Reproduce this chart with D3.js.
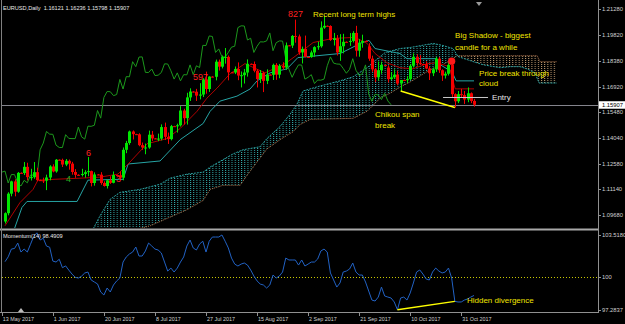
<!DOCTYPE html>
<html lang="en">
<head>
<meta charset="UTF-8">
<title>EURUSD Daily - Ichimoku</title>
<script src="https://d3js.org/d3.v7.min.js"></script>
<style>
  body { margin: 0; background: #000; }
  svg { display: block; font-family: "Liberation Sans", Arial, sans-serif; }
</style>
</head>
<body>
<div id="chart"></div>
<script>
// EURUSD daily, 15 May - 6 Nov 2017 (the broker also prints short Saturday bars)
const open = [
  1.0933,1.0980,1.1090,1.1159,1.1101,1.1207,1.1206,1.1241,1.1183,1.1183,
  1.1211,1.1166,1.1165,1.1163,1.1181,1.1243,1.1215,1.1281,1.1280,1.1254,
  1.1275,1.1259,1.1212,1.1196,1.1195,1.1201,1.1211,1.1217,1.1150,1.1198,
  1.1197,1.1150,1.1133,1.1165,1.1151,1.1195,1.1194,1.1180,1.1337,1.1375,
  1.1440,1.1425,1.1424,1.1363,1.1350,1.1350,1.1422,1.1401,1.1400,1.1400,
  1.1465,1.1410,1.1397,1.1470,1.1469,1.1475,1.1558,1.1515,1.1632,1.1665,
  1.1664,1.1642,1.1648,1.1733,1.1679,1.1749,1.1748,1.1833,1.1805,1.1859,
  1.1860,1.1773,1.1772,1.1792,1.1755,1.1757,1.1772,1.1821,1.1820,1.1782,
  1.1735,1.1770,1.1725,1.1760,1.1759,1.1815,1.1760,1.1810,1.1800,1.1925,
  1.1924,1.1978,1.1975,1.1885,1.1905,1.1860,1.1859,1.1885,1.1915,1.1920,
  1.2025,1.2035,1.2034,1.1955,1.1965,1.1885,1.1920,1.1945,1.1944,1.1950,
  1.1995,1.1895,1.1940,1.1950,1.1920,1.1850,1.1790,1.1745,1.1785,1.1815,
  1.1800,1.1735,1.1745,1.1760,1.1710,1.1730,1.1729,1.1735,1.1810,1.1860,
  1.1825,1.1820,1.1819,1.1795,1.1768,1.1790,1.1850,1.1785,1.1755,1.1765,
  1.1815,1.1650,1.1610,1.1650,1.1645,1.1620,1.1655,1.16121];
const high = [
  1.0985,1.1098,1.1163,1.1171,1.1212,1.1210,1.1268,1.1264,1.1230,1.1268,
  1.1236,1.1169,1.1180,1.1197,1.1250,1.1255,1.1285,1.1283,1.1287,1.1285,
  1.1282,1.1269,1.1228,1.1199,1.1230,1.1222,1.1296,1.1220,1.1210,1.1200,
  1.1211,1.1160,1.1170,1.1188,1.1215,1.1197,1.1215,1.1350,1.1387,1.1445,
  1.1446,1.1427,1.1430,1.1378,1.1372,1.1445,1.1443,1.1403,1.1428,1.1480,
  1.1490,1.1434,1.1477,1.1472,1.1484,1.1583,1.1568,1.1658,1.1683,1.1667,
  1.1680,1.1712,1.1740,1.1777,1.1751,1.1751,1.1845,1.1845,1.1868,1.1910,
  1.1868,1.1775,1.1806,1.1829,1.1778,1.1792,1.1846,1.1823,1.1834,1.1791,
  1.1786,1.1777,1.1790,1.1762,1.1822,1.1825,1.1820,1.1830,1.1941,1.1927,
  1.1983,1.2070,1.1986,1.1918,1.1980,1.1862,1.1896,1.1920,1.1946,1.2060,
  1.2092,1.2037,1.2038,1.1995,1.1983,1.1988,1.1990,1.1947,1.1994,1.2005,
  1.2035,1.1961,1.1985,1.1952,1.1937,1.1867,1.1797,1.1834,1.1833,1.1817,
  1.1813,1.1775,1.1790,1.1782,1.1730,1.1732,1.1752,1.1820,1.1880,1.1875,
  1.1870,1.1822,1.1835,1.1808,1.1800,1.1860,1.1860,1.1790,1.1777,1.1830,
  1.1836,1.1655,1.1668,1.1680,1.1668,1.1688,1.1660,1.16236];
const low = [
  1.0922,1.0968,1.1075,1.1075,1.1095,1.1203,1.1195,1.1165,1.1164,1.1174,
  1.1160,1.1162,1.1150,1.1110,1.1165,1.1210,1.1208,1.1277,1.1240,1.1245,
  1.1225,1.1197,1.1179,1.1192,1.1187,1.1180,1.1188,1.1131,1.1135,1.1194,
  1.1140,1.1130,1.1119,1.1145,1.1148,1.1191,1.1169,1.1165,1.1318,1.1365,
  1.1395,1.1420,1.1357,1.1337,1.1312,1.1343,1.1387,1.1397,1.1386,1.1390,
  1.1392,1.1370,1.1390,1.1466,1.1434,1.1468,1.1479,1.1479,1.1612,1.1660,
  1.1612,1.1621,1.1634,1.1653,1.1663,1.1745,1.1728,1.1783,1.1795,1.1822,
  1.1728,1.1769,1.1763,1.1729,1.1688,1.1710,1.1749,1.1817,1.1773,1.1688,
  1.1713,1.1662,1.1707,1.1756,1.1730,1.1731,1.1740,1.1787,1.1787,1.1921,
  1.1910,1.1940,1.1872,1.1823,1.1858,1.1856,1.1855,1.1860,1.1900,1.1912,
  1.2018,1.2031,1.1950,1.1924,1.1868,1.1838,1.1880,1.1941,1.1922,1.1941,
  1.1862,1.1861,1.1912,1.1946,1.1838,1.1776,1.1718,1.1726,1.1765,1.1811,
  1.1716,1.1729,1.1737,1.1700,1.1668,1.1726,1.1712,1.1730,1.1800,1.1810,
  1.1815,1.1816,1.1790,1.1730,1.1752,1.1775,1.1770,1.1725,1.1738,1.1755,
  1.1630,1.1575,1.1600,1.1630,1.1595,1.1605,1.1600,1.15798];
const close = [
  1.0980,1.1090,1.1159,1.1101,1.1207,1.1206,1.1241,1.1183,1.1183,1.1211,
  1.1166,1.1165,1.1163,1.1181,1.1243,1.1215,1.1281,1.1280,1.1254,1.1275,
  1.1259,1.1212,1.1196,1.1195,1.1201,1.1211,1.1217,1.1150,1.1198,1.1197,
  1.1150,1.1133,1.1165,1.1151,1.1195,1.1194,1.1180,1.1337,1.1375,1.1440,
  1.1425,1.1424,1.1363,1.1350,1.1350,1.1422,1.1401,1.1400,1.1400,1.1465,
  1.1410,1.1397,1.1470,1.1469,1.1475,1.1558,1.1515,1.1632,1.1665,1.1664,
  1.1642,1.1648,1.1733,1.1679,1.1749,1.1748,1.1833,1.1805,1.1859,1.1860,
  1.1773,1.1772,1.1792,1.1755,1.1757,1.1772,1.1821,1.1820,1.1782,1.1735,
  1.1770,1.1725,1.1760,1.1759,1.1815,1.1760,1.1810,1.1800,1.1925,1.1924,
  1.1978,1.1975,1.1885,1.1905,1.1860,1.1859,1.1885,1.1915,1.1920,1.2025,
  1.2035,1.2034,1.1955,1.1965,1.1885,1.1920,1.1945,1.1944,1.1950,1.1995,
  1.1895,1.1940,1.1950,1.1949,1.1850,1.1790,1.1745,1.1785,1.1815,1.1814,
  1.1735,1.1745,1.1760,1.1710,1.1730,1.1729,1.1735,1.1810,1.1860,1.1825,
  1.1820,1.1819,1.1795,1.1768,1.1790,1.1850,1.1785,1.1755,1.1765,1.1815,
  1.1650,1.1610,1.1650,1.1645,1.1620,1.1655,1.1612,1.15907];

// Momentum(14), one value per bar
const momentum = [
  101.3,101.7,102.35,102.4,102.85,102.1,102.35,102.1,102.75,103.4,
  103.7,103.1,103.25,102.6,102.5,101.35,101.27,101.5,100.8,100.95,
  100.6,100.27,100.0,99.94,100.1,100.36,100.44,99.78,99.61,99.45,
  98.78,98.53,99.11,98.78,99.36,99.7,99.94,101.27,101.69,101.94,
  102.1,102.52,101.77,101.77,102.19,102.85,102.6,102.35,102.27,102.02,
  101.27,100.52,100.77,100.44,100.77,101.27,101.69,102.6,103.1,102.44,
  102.27,102.77,103.0,102.1,103.0,103.35,103.35,103.35,103.52,103.0,
  102.44,101.6,101.1,100.94,101.1,101.19,101.02,100.61,100.11,99.7,
  99.44,99.36,99.11,99.36,100.19,99.94,100.11,100.44,101.6,101.44,
  101.44,101.44,101.02,101.44,100.94,101.1,101.27,101.27,101.52,102.19,
  102.35,102.1,100.36,99.78,99.19,99.53,100.44,100.52,100.69,101.19,
  100.44,100.19,100.19,99.61,98.86,98.11,98.03,98.36,99.19,98.45,
  98.36,98.28,97.95,97.30,98.28,98.36,98.11,98.7,99.53,100.44,
  100.61,100.27,99.86,99.78,100.44,100.77,100.52,100.36,100.44,100.77,
  99.94,98.0,97.95,97.95,98.11,98.2,98.36,98.4909];

// ichimoku lines, [bar, price]
const tenkan = [[0,1.0909],[4.7,1.1040],[8.8,1.1114],[10.3,1.1166],[15.7,1.1171],[23.5,1.1177],
  [29.8,1.1183],[35.4,1.1200],[38.6,1.1257],[44.5,1.1371],[50.8,1.1400],[54.9,1.1457],[60.2,1.1554],
  [63.3,1.1628],[66.5,1.1685],[70.5,1.1765],[75.2,1.1822],[81.5,1.1770],[87.8,1.1822],[91.2,1.1867],
  [96.6,1.1941],[102.8,1.1964],[109.7,1.1970],[113.5,1.1936],[116,1.1879],[119.7,1.1827],[123.8,1.1799],
  [127.9,1.1793],[132.3,1.1822],[135.4,1.1827],[139.2,1.1805],[141.1,1.1680],[147,1.1680]];
const kijun = [[0,1.0830],[2.5,1.0869],[5.3,1.1012],[6.9,1.1046],[22.6,1.1046],[26,1.1166],[37,1.1171],
  [38.6,1.1257],[48.6,1.1274],[54.9,1.1394],[62.1,1.1485],[64.3,1.1554],[67.4,1.1611],[72.7,1.1639],
  [76.8,1.1679],[79,1.1725],[83.1,1.1770],[88.4,1.1793],[91.8,1.1856],[105,1.1879],[108.2,1.1907],
  [111.3,1.1936],[114.1,1.1953],[116,1.1907],[123.8,1.1879],[126,1.1850],[135.1,1.1850],[136.4,1.1816],
  [140.1,1.1776],[141.4,1.1725],[147,1.1725]];
const spanA = [[25.1,1.0783],[27.3,1.0880],[29.8,1.0966],[32.9,1.1057],[36,1.1097],[42.3,1.1114],
  [48.6,1.1143],[51.7,1.1177],[57.1,1.1200],[62.1,1.1211],[64.3,1.1240],[71.5,1.1314],[74.6,1.1337],
  [79.9,1.1354],[82.1,1.1400],[86.2,1.1468],[89.3,1.1536],[91.5,1.1593],[93.4,1.1668],[98.7,1.1696],
  [105,1.1725],[109.1,1.1748],[113.5,1.1799],[116,1.1839],[119.1,1.1884],[123.8,1.1907],[127,1.1913],
  [134.2,1.1936],[137.3,1.1924],[140.4,1.1907],[142,1.1862],[145.8,1.1839],[149.8,1.1816],[155.2,1.1799],
  [158.3,1.1805],[161.4,1.1805],[163.6,1.1793],[166.1,1.1770],[167.4,1.1713],[173,1.1713]];
const spanB = [[32.9,1.0812],[39.2,1.0880],[45.5,1.0909],[57.1,1.1000],[62.1,1.1052],[64.3,1.1114],
  [68.3,1.1137],[73.7,1.1137],[75.9,1.1194],[82.1,1.1342],[86.2,1.1394],[90.3,1.1439],[92.5,1.1479],
  [95.6,1.1508],[109.1,1.1514],[113.5,1.1554],[115.4,1.1588],[117.6,1.1628],[120.7,1.1656],[123.8,1.1690],
  [127,1.1719],[130.1,1.1753],[133.2,1.1787],[136.4,1.1810],[139.5,1.1839],[141.7,1.1867],[166.8,1.1867],
  [167.7,1.1833],[173,1.1833]];

const priceTicks = [1.21280, 1.19820, 1.18380, 1.16920, 1.15480, 1.14040, 1.12580, 1.11140, 1.09680];
const momTicks = [103.5180, 100, 97.2837];
const dateTicks = [[-1, "13 May 2017"], [15, "1 Jun 2017"], [31, "20 Jun 2017"], [47, "8 Jul 2017"],
  [63, "27 Jul 2017"], [79, "15 Aug 2017"], [95, "2 Sep 2017"], [111, "21 Sep 2017"],
  [127, "10 Oct 2017"], [143, "31 Oct 2017"]];

// text objects on the chart, [bar, price]
const notes = [
  {i: 88.7, v: 1.20847, t: "827", kind: "count"},
  {i: 96.55, v: 1.20847, t: "Recent long term highs", kind: "comment"},
  {i: 58.9, v: 1.17299, t: "597", kind: "count"},
  {i: 25.4, v: 1.13048, t: "6", kind: "count"},
  {i: 19.1, v: 1.11528, t: "4", kind: "countUp"},
  {i: 34.8, v: 1.11584, t: "3", kind: "count"},
  {i: 141.07, v: 1.19664, t: "Big Shadow - biggest", kind: "comment"},
  {i: 141.07, v: 1.18988, t: "candle for a while", kind: "comment"},
  {i: 148.6, v: 1.17524, t: "Price break through", kind: "comment"},
  {i: 148.6, v: 1.16961, t: "cloud", kind: "comment"},
  {i: 152.66, v: 1.16145, t: "Entry", kind: "entry"},
  {i: 116, v: 1.15216, t: "Chikou span", kind: "comment"},
  {i: 116, v: 1.14596, t: "break", kind: "comment"}
];
const momNotes = [{i: 144.8, v: 97.86, t: "Hidden divergence", kind: "comment"}];
const entryLine = {from: 137.3, to: 151.4, v: 1.16314};

const W = 625, H = 324;
const noteStyle = {
  count:   {fill: "#ff2020", size: 9},
  countUp: {fill: "#22b022", size: 9},
  comment: {fill: "#f0e400", size: 8},
  entry:   {fill: "#e6e6e6", size: 8}
};

const svg = d3.select("#chart").append("svg").attr("width", W).attr("height", H);
svg.append("rect").attr("width", W).attr("height", H).attr("fill", "#000");

const x = d3.scaleLinear().domain([0, 147]).range([5, 474]);
const y = d3.scaleLinear().domain([1.08966, 1.21691]).range([228, 2]);
const ym = d3.scaleLinear().domain([97.2837, 103.518]).range([310, 235]);
const step = x(1) - x(0);
const last = close.length - 1;

const defs = svg.append("defs");
defs.append("clipPath").attr("id", "mainClip")
  .append("rect").attr("x", 2).attr("y", 2).attr("width", 596).attr("height", 226);
defs.append("clipPath").attr("id", "momClip")
  .append("rect").attr("x", 2).attr("y", 231).attr("width", 596).attr("height", 81);

function hatch(id, color) {
  const p = defs.append("pattern").attr("id", id)
    .attr("patternUnits", "userSpaceOnUse")
    .attr("x", x(0)).attr("y", 0)
    .attr("width", step).attr("height", 2);
  p.append("rect").attr("width", 1).attr("height", 1).attr("fill", color);
}
hatch("kumoUp", "#34abab");
hatch("kumoDown", "#c49f72");

const line = d3.line().x(d => x(d[0])).y(d => y(d[1]));
const below = d3.area().x(d => x(d[0])).y0(H + 40).y1(d => y(d[1]));
defs.append("clipPath").attr("id", "belowA").append("path").attr("d", below(spanA));
defs.append("clipPath").attr("id", "belowB").append("path").attr("d", below(spanB));

const main = svg.append("g").attr("clip-path", "url(#mainClip)");

// cloud
const between = line(spanA.concat(spanB.slice().reverse())) + "Z";
main.append("g").attr("clip-path", "url(#belowA)")
  .append("path").attr("d", between).attr("fill", "url(#kumoUp)");
main.append("g").attr("clip-path", "url(#belowB)")
  .append("path").attr("d", between).attr("fill", "url(#kumoDown)");
main.append("path").attr("d", line(spanB)).attr("fill", "none")
  .attr("stroke", "#b07650").attr("stroke-dasharray", "1,1");
main.append("path").attr("d", line(spanA)).attr("fill", "none")
  .attr("stroke", "#2aa0a0").attr("stroke-dasharray", "2,1");

// current price line
main.append("line").attr("x1", 2).attr("x2", 598)
  .attr("y1", Math.round(y(close[last])) + 0.5).attr("y2", Math.round(y(close[last])) + 0.5)
  .attr("stroke", "#84848c");

// kijun, tenkan, chikou
main.append("path").attr("d", line(kijun)).attr("fill", "none").attr("stroke", "#26a4a4");
main.append("path").attr("d", line(tenkan)).attr("fill", "none").attr("stroke", "#b00000");
const chikou = close.map((c, i) => [i - 26, c]);
main.append("path").attr("d", line(chikou)).attr("fill", "none").attr("stroke", "#1c981c");

// candles
const bars = d3.range(close.length);
const up = i => close[i] >= open[i];
const bull = "#00e600", bear = "#f40000";
main.selectAll(".wick").data(bars).join("rect").attr("class", "wick")
  .attr("x", i => Math.round(x(i)))
  .attr("y", i => y(high[i]))
  .attr("width", 1)
  .attr("height", i => Math.max(1, y(low[i]) - y(high[i])))
  .attr("fill", i => up(i) ? bull : bear);
main.selectAll(".body").data(bars).join("rect").attr("class", "body")
  .attr("x", i => Math.round(x(i)) - 1)
  .attr("y", i => y(Math.max(open[i], close[i])))
  .attr("width", 3)
  .attr("height", i => Math.max(1, Math.abs(y(open[i]) - y(close[i]))))
  .attr("fill", i => up(i) ? bull : bear);

// trend line under the lows, entry line, big shadow dot
main.append("line")
  .attr("x1", x(124)).attr("y1", y(low[124]))
  .attr("x2", x(141)).attr("y2", y(low[141]))
  .attr("stroke", "#ffff00").attr("stroke-width", 1.4);
main.append("line")
  .attr("x1", x(entryLine.from)).attr("x2", x(entryLine.to))
  .attr("y1", y(entryLine.v)).attr("y2", y(entryLine.v))
  .attr("stroke", "#c8c8c8");
main.append("circle").attr("cx", x(140)).attr("cy", y(high[140])).attr("r", 3.6).attr("fill", "#ff1a1a");

main.selectAll(".note").data(notes).join("text").attr("class", "note")
  .attr("x", d => x(d.i)).attr("y", d => y(d.v))
  .attr("fill", d => noteStyle[d.kind].fill)
  .attr("font-size", d => noteStyle[d.kind].size)
  .text(d => d.t);

svg.append("text").attr("x", 3).attr("y", 10).attr("fill", "#e8e8e8").attr("font-size", 5.6)
  .attr("xml:space", "preserve")
  .text("EURUSD,Daily  1.16121 1.16236 1.15798 1.15907");

// momentum window
const mom = svg.append("g").attr("clip-path", "url(#momClip)");
mom.append("line").attr("x1", 2).attr("x2", 598)
  .attr("y1", Math.round(ym(100)) + 0.5).attr("y2", Math.round(ym(100)) + 0.5)
  .attr("stroke", "#c8c800").attr("stroke-dasharray", "1,2");
mom.append("path")
  .attr("d", d3.line().x((d, i) => x(i)).y(d => ym(d))(momentum))
  .attr("fill", "none").attr("stroke", "#2262c4");
mom.append("line")
  .attr("x1", x(123)).attr("y1", ym(momentum[123]))
  .attr("x2", x(141)).attr("y2", ym(momentum[141]))
  .attr("stroke", "#ffff00").attr("stroke-width", 1.4);
mom.selectAll(".mnote").data(momNotes).join("text").attr("class", "mnote")
  .attr("x", d => x(d.i)).attr("y", d => ym(d.v))
  .attr("fill", d => noteStyle[d.kind].fill)
  .attr("font-size", d => noteStyle[d.kind].size)
  .text(d => d.t);
svg.append("text").attr("x", 3).attr("y", 238).attr("fill", "#e8e8e8").attr("font-size", 5.6)
  .text("Momentum(14) " + momentum[last].toFixed(4));

// frame
svg.append("rect").attr("x", 0).attr("y", 228.5).attr("width", 598).attr("height", 2).attr("fill", "#a8a8a8");
svg.append("line").attr("x1", 1.5).attr("x2", 1.5).attr("y1", 0).attr("y2", 313).attr("stroke", "#808080");
svg.append("line").attr("x1", 598.5).attr("x2", 598.5).attr("y1", 0).attr("y2", 313).attr("stroke", "#909090");
svg.append("line").attr("x1", 0).attr("x2", 599).attr("y1", 312.5).attr("y2", 312.5).attr("stroke", "#909090");
svg.append("path").attr("d", "M476,2L482,2L479,6Z").attr("fill", "#9a9a9a");
svg.append("path").attr("d", "M18,312L24,312L21,308Z").attr("fill", "#bcbcbc");

// price axis
const axisColor = "#d0d0d0";
const pa = svg.append("g");
pa.selectAll("line").data(priceTicks).join("line")
  .attr("x1", 598).attr("x2", 601)
  .attr("y1", d => Math.round(y(d)) + 0.5).attr("y2", d => Math.round(y(d)) + 0.5)
  .attr("stroke", "#909090");
pa.selectAll("text").data(priceTicks).join("text")
  .attr("x", 602).attr("y", d => y(d) + 2)
  .attr("fill", axisColor).attr("font-size", 5.8)
  .text(d => d.toFixed(5));
const cp = y(close[last]);
svg.append("rect").attr("x", 599).attr("y", cp - 3.5).attr("width", 26).attr("height", 7.5).attr("fill", "#ffffff");
svg.append("text").attr("x", 602).attr("y", cp + 2).attr("fill", "#000").attr("font-size", 5.8)
  .text(close[last].toFixed(5));

const ma = svg.append("g");
ma.selectAll("line").data(momTicks).join("line")
  .attr("x1", 598).attr("x2", 601)
  .attr("y1", d => Math.round(ym(d)) + 0.5).attr("y2", d => Math.round(ym(d)) + 0.5)
  .attr("stroke", "#909090");
ma.selectAll("text").data(momTicks).join("text")
  .attr("x", 602).attr("y", d => ym(d) + 2)
  .attr("fill", axisColor).attr("font-size", 5.8)
  .text(d => d === 100 ? "100" : d.toFixed(4));

// date axis
const da = svg.append("g");
da.selectAll("line").data(dateTicks).join("line")
  .attr("x1", d => Math.round(x(d[0])) + 0.5).attr("x2", d => Math.round(x(d[0])) + 0.5)
  .attr("y1", 313).attr("y2", 316)
  .attr("stroke", "#909090");
da.selectAll("text").data(dateTicks).join("text")
  .attr("x", d => x(d[0]) + 1).attr("y", 321)
  .attr("fill", axisColor).attr("font-size", 5.4)
  .text(d => d[1]);
</script>
</body>
</html>
